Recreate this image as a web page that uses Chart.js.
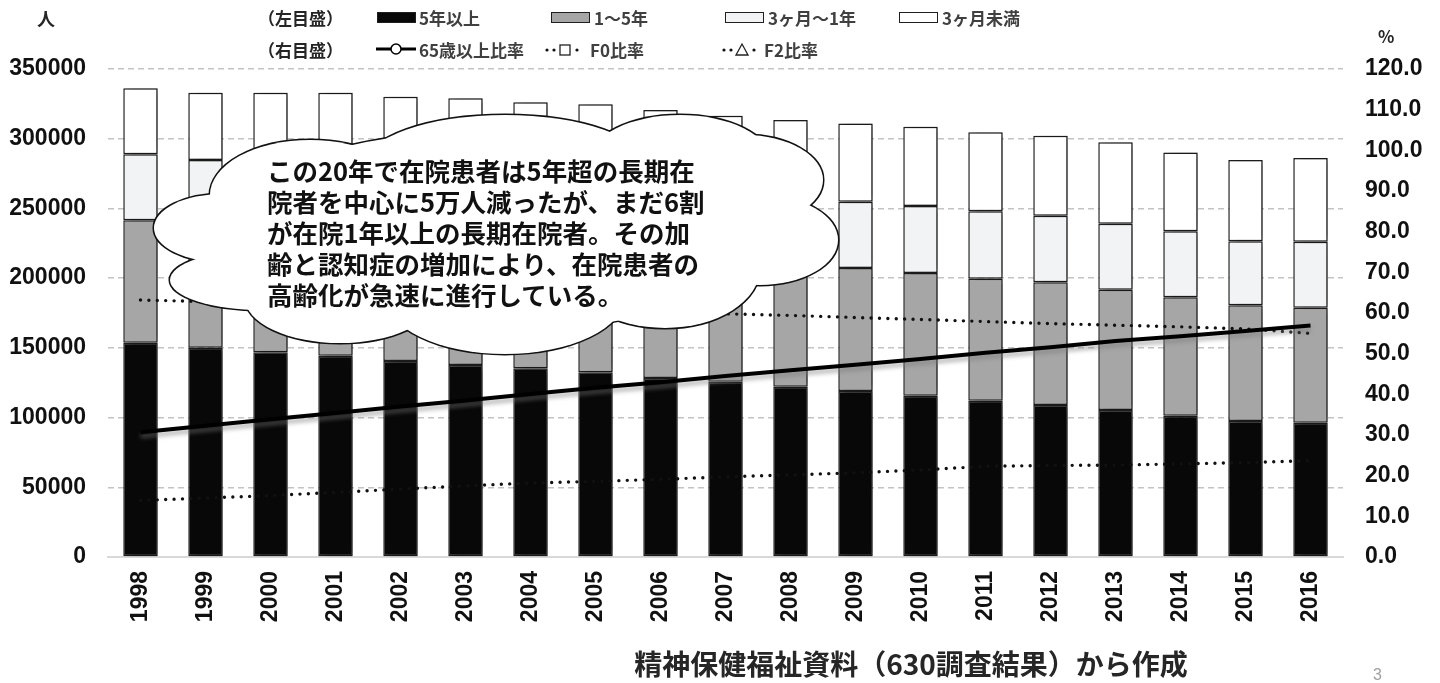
<!DOCTYPE html>
<html lang="ja">
<head>
<meta charset="UTF-8">
<meta name="viewport" content="width=device-width, initial-scale=1.0">
<title>在院患者数と年齢・疾患比率の推移</title>
<script src="https://cdn.jsdelivr.net/npm/chart.js"></script>
<style>
  html, body { margin: 0; padding: 0; background: #fff; }
  body { width: 1440px; height: 683px; position: relative; overflow: hidden;
         font-family: "Noto Sans CJK JP", "Noto Sans", sans-serif; }
  #wrap { position: absolute; left: 0; top: 0; width: 1440px; height: 683px; }
  .t { position: absolute; white-space: nowrap; font-weight: 700; line-height: 1; }
  .leg { font-size: 17px; color: #404040; }
  .scale { font-size: 17px; color: #262626; }
  .sw { position: absolute; width: 39px; height: 11px; border: 1.5px solid #1f1f1f; box-sizing: border-box; }
  .lsw { position: absolute; }
  #note { position: absolute; left: 267px; top: 154px; font-size: 25.5px; line-height: 31px;
          font-weight: 700; color: #111; white-space: nowrap; }
  #source { position: absolute; left: 911px; top: 663px; transform: translate(-50%, -50%);
            font-size: 28px; font-weight: 700; color: #262626; white-space: nowrap; }
  #page { position: absolute; left: 1373px; top: 666px; font-size: 16px; color: #a0a0a0;
          font-family: "Liberation Sans", sans-serif; }
</style>
</head>
<body>
<div id="wrap"><canvas id="chart"></canvas></div>

<!-- 軸の単位 -->
<div class="t scale" style="left:37px; top:9px; font-size:18px;">人</div>
<div class="t scale" style="left:1378px; top:27px;">%</div>

<!-- 凡例（左目盛：棒、右目盛：折れ線） -->
<div class="t scale" style="left:258px; top:9px;">（左目盛）</div>
<div class="t scale" style="left:258px; top:41px;">（右目盛）</div>
<div id="legend"></div>

<div id="note">この20年で在院患者は5年超の長期在<br>院者を中心に5万人減ったが、まだ6割<br>が在院1年以上の長期在院者。その加<br>齢と認知症の増加により、在院患者の<br>高齢化が急速に進行している。</div>

<div id="source">精神保健福祉資料（630調査結果）から作成</div>
<div id="page">3</div>

<script>
// 年次
const years = ['1998', '1999', '2000', '2001', '2002', '2003', '2004', '2005', '2006', '2007',
               '2008', '2009', '2010', '2011', '2012', '2013', '2014', '2015', '2016'];

// 在院期間別 在院患者数（人）
const over5y  = [153700, 150100, 146800, 144400, 140600, 137700, 135300, 132500, 128300, 125700,
                 122100, 119100, 115700, 112100, 109000, 105400, 101300, 97500, 96300];
const y1to5   = [87800, 87200, 88000, 88500, 88500, 89000, 88500, 89000, 89000, 88000,
                 88500, 88200, 88000, 87500, 88000, 86300, 85000, 83000, 82500];
const m3to1y  = [47300, 47400, 47500, 48000, 48000, 48000, 47500, 47500, 47500, 47000,
                 47000, 47500, 48000, 48400, 47800, 47300, 47300, 45900, 47300];
const under3m = [47400, 48300, 50700, 52100, 53000, 54300, 54800, 55700, 55800, 55800,
                 55800, 56200, 56900, 56600, 57400, 58400, 56600, 58300, 60100];

// 比率（%）
const age65Ratio = [30.7, 32.3, 33.9, 35.4, 37.0, 38.5, 40.1, 41.6, 43.0, 44.5,
                    45.9, 47.3, 48.7, 50.2, 51.6, 53.1, 54.3, 55.6, 56.9];
const f0Ratio    = [63.2, 62.8, 62.4, 62.0, 61.6, 61.2, 60.8, 60.4, 60.1, 59.8,
                    59.4, 58.9, 58.4, 57.9, 57.4, 57.0, 56.6, 56.1, 55.0];
const f2Ratio    = [13.9, 14.5, 15.1, 15.9, 16.7, 17.5, 18.2, 18.6, 19.1, 19.7,
                    20.2, 20.7, 21.4, 22.3, 22.5, 22.6, 22.9, 23.2, 23.7];

// 目盛
const leftMax = 350000, leftStep = 50000;
const rightMax = 120, rightStep = 10;

const tickFont = { family: '"Liberation Sans", Arial, sans-serif', size: 23, weight: 'bold' };

const barBase = {
  type: 'bar', yAxisID: 'y', stack: 'stay', order: 2,
  borderColor: '#1f1f1f', borderWidth: 1.5, borderSkipped: false,
  barPercentage: 0.53, categoryPercentage: 1
};
const lineBase = {
  type: 'line', yAxisID: 'y1', order: 1, pointRadius: 0, tension: 0, fill: false
};

// 棒と折れ線に薄い影をつける
const softShadow = {
  id: 'softShadow',
  beforeDatasetDraw(chart, args) {
    const ctx = chart.ctx;
    ctx.save();
    if (args.meta.type === 'bar') {
      ctx.shadowColor = 'rgba(0,0,0,0.45)';
      ctx.shadowBlur = 7;
      ctx.shadowOffsetX = 4;
      ctx.shadowOffsetY = 0;
    } else if (args.index === 4) {
      ctx.shadowColor = 'rgba(120,120,120,0.55)';
      ctx.shadowBlur = 4;
      ctx.shadowOffsetY = 4;
    }
  },
  afterDatasetDraw(chart) { chart.ctx.restore(); }
};

// 吹き出し（雲形）
const cloudLobes = [
  [222, 228, 68, 34], [262, 280, 92, 30], [340, 298, 95, 45], [505, 296, 120, 58],
  [665, 268, 95, 60], [760, 240, 78, 45], [745, 180, 78, 45], [680, 160, 90, 45],
  [505, 165, 140, 50], [310, 195, 100, 55], [500, 230, 280, 100]
];
const cloud = {
  id: 'cloud',
  afterDraw(chart) {
    const ctx = chart.ctx;
    ctx.save();
    ctx.lineWidth = 3;
    ctx.strokeStyle = '#111';
    cloudLobes.forEach(([x, y, rx, ry]) => {
      ctx.beginPath(); ctx.ellipse(x, y, rx, ry, 0, 0, Math.PI * 2); ctx.stroke();
    });
    ctx.fillStyle = '#fff';
    cloudLobes.forEach(([x, y, rx, ry]) => {
      ctx.beginPath(); ctx.ellipse(x, y, rx, ry, 0, 0, Math.PI * 2); ctx.fill();
    });
    ctx.restore();
  }
};

const chart = new Chart(document.getElementById('chart'), {
  data: {
    labels: years,
    datasets: [
      { ...barBase, label: '5年以上', data: over5y, backgroundColor: '#080808' },
      { ...barBase, label: '1～5年', data: y1to5, backgroundColor: '#a6a6a6' },
      { ...barBase, label: '3ヶ月～1年', data: m3to1y, backgroundColor: '#f2f3f4' },
      { ...barBase, label: '3ヶ月未満', data: under3m, backgroundColor: '#ffffff' },
      { ...lineBase, label: '65歳以上比率', data: age65Ratio, borderColor: '#000', borderWidth: 4 },
      { ...lineBase, label: 'F0比率', data: f0Ratio, borderColor: '#111', borderWidth: 3.4,
        borderDash: [0, 8.4], borderCapStyle: 'round' },
      { ...lineBase, label: 'F2比率', data: f2Ratio, borderColor: '#111', borderWidth: 3.4,
        borderDash: [0, 8.4], borderCapStyle: 'round' }
    ]
  },
  options: {
    responsive: true,
    maintainAspectRatio: false,
    animation: false,
    layout: { padding: { top: 69, right: 0, bottom: 0, left: 0 } },
    plugins: { legend: { display: false }, tooltip: { enabled: false } },
    scales: {
      x: {
        stacked: true,
        grid: { display: false, drawTicks: false },
        border: { display: true, color: '#d9d9d9', width: 2 },
        ticks: { font: tickFont, color: '#111', maxRotation: 90, minRotation: 90,
                 padding: 14, autoSkip: false },
        afterFit: s => { s.height = 126; }
      },
      y: {
        stacked: true, min: 0, max: leftMax,
        ticks: { stepSize: leftStep, padding: 22, font: tickFont, color: '#111',
                 callback: v => String(v) },
        grid: { drawTicks: false, lineWidth: 1.5,
                color: c => (c.tick && c.tick.value === 0) ? 'rgba(0,0,0,0)' : '#c4c4c4' },
        border: { display: false, dash: [6, 4] },
        afterFit: s => { s.width = 108; }
      },
      y1: {
        position: 'right', min: 0, max: rightMax,
        ticks: { stepSize: rightStep, padding: 22, font: tickFont, color: '#111',
                 callback: v => Number(v).toFixed(1) },
        grid: { display: false, drawTicks: false },
        border: { display: false },
        afterFit: s => { s.width = 97; }
      }
    }
  },
  plugins: [softShadow, cloud]
});

// 凡例をデータセットから組み立てる
const legendSpots = [
  { i: 0, sx: 377, tx: 419, y: 9 },  { i: 1, sx: 551, tx: 594, y: 9 },
  { i: 2, sx: 725, tx: 768, y: 9 },  { i: 3, sx: 899, tx: 942, y: 9 },
  { i: 4, sx: 374, tx: 419, y: 41 }, { i: 5, sx: 543, tx: 590, y: 41 },
  { i: 6, sx: 720, tx: 764, y: 41 }
];
const markers = {
  4: '<line x1="2" y1="8" x2="42" y2="8" stroke="#000" stroke-width="3"/>' +
     '<circle cx="22" cy="8" r="5" fill="#fff" stroke="#000" stroke-width="1.5"/>',
  5: '<circle cx="4" cy="9" r="1.6" fill="#111"/><circle cx="11" cy="9" r="1.6" fill="#111"/>' +
     '<rect x="17" y="4" width="10" height="10" fill="#fff" stroke="#222" stroke-width="1.3"/>' +
     '<circle cx="34" cy="9" r="1.6" fill="#111"/>',
  6: '<circle cx="4" cy="9" r="1.6" fill="#111"/><circle cx="11" cy="9" r="1.6" fill="#111"/>' +
     '<polygon points="22,3 28,14 16,14" fill="#fff" stroke="#222" stroke-width="1.3"/>' +
     '<circle cx="34" cy="9" r="1.6" fill="#111"/>'
};
const legend = document.getElementById('legend');
legendSpots.forEach(p => {
  const ds = chart.data.datasets[p.i];
  if (ds.type === 'bar') {
    const sw = document.createElement('div');
    sw.className = 'sw';
    sw.style.left = p.sx + 'px';
    sw.style.top = (p.y + 3) + 'px';
    sw.style.background = ds.backgroundColor;
    legend.appendChild(sw);
  } else {
    const span = document.createElement('div');
    span.className = 'lsw';
    span.style.left = p.sx + 'px';
    span.style.top = (p.y - 1) + 'px';
    span.innerHTML = '<svg width="44" height="18">' + markers[p.i] + '</svg>';
    legend.appendChild(span);
  }
  const t = document.createElement('div');
  t.className = 't leg';
  t.style.left = p.tx + 'px';
  t.style.top = p.y + 'px';
  t.textContent = ds.label;
  legend.appendChild(t);
});
</script>
</body>
</html>
